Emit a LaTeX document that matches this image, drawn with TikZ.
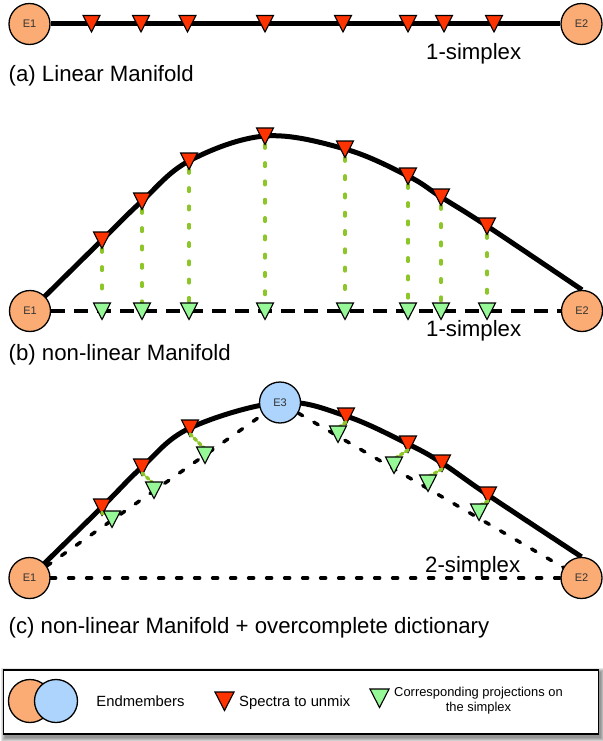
\documentclass[tikz,border=0pt]{standalone}
\usepackage{fontspec}
\setmainfont{Liberation Sans}
\usetikzlibrary{calc}
\pgfdeclarelayer{background}
\pgfsetlayers{background,main}
\definecolor{eorange}{RGB}{251,172,116}
\definecolor{eblue}{RGB}{172,212,253}
\definecolor{tred}{RGB}{255,51,0}
\definecolor{tgreen}{RGB}{150,248,150}
\definecolor{gline}{RGB}{141,198,40}
\tikzset{
  redtri/.pic={\filldraw[fill=tred, draw=black, line width=1.1pt, line join=miter] (-8.5,-8) -- (8.5,-8) -- (0,8.5) -- cycle;},
  greentri/.pic={\filldraw[fill=tgreen, draw=black, line width=1.1pt, line join=miter] (-8.5,-8) -- (8.5,-8) -- (0,8.5) -- cycle;},
  endm/.style={circle, draw=black, line width=1.3pt, minimum size=41pt, inner sep=0pt, font=\fontsize{11}{13}\selectfont, text=black!80},
  manifold/.style={line width=5pt, black},
  simplexdash/.style={line width=4pt, dash pattern=on 14pt off 9pt},
  simplexdot/.style={line width=3.5pt, line cap=round, dash pattern=on 5pt off 13pt},
  projline/.style={gline, line width=3.3pt, line cap=round, dash pattern=on 3.7pt off 14.6pt},
  title/.style={anchor=base west, inner sep=0pt, font=\fontsize{22.2}{26}\selectfont},
  legtext/.style={inner sep=0pt, font=\fontsize{14.8}{17}\selectfont},
}
\begin{document}
\begin{tikzpicture}[x=1pt,y=-1pt]
\useasboundingbox (0,0) rectangle (602,741);

% ---------------- (a) ----------------
\node[endm, fill=eorange] (a-E1) at (29.5,24) {E1};
\node[endm, fill=eorange] (a-E2) at (581.5,24) {E2};
\draw[manifold] (a-E1) -- (a-E2);
\foreach \x [count=\i] in {91.5,141,187.5,265,343,408,444,494} {
  \coordinate (a-r\i) at (\x,23.5);
  \pic at (a-r\i) {redtri};
}
\node[title] (a-simp) at (426,60) {1-simplex};
\node[title] (a-title) at (8.5,82) {(a) Linear Manifold};

% ---------------- (b) ----------------
\node[endm, fill=eorange] (b-E1) at (30,311) {E1};
\node[endm, fill=eorange] (b-E2) at (582,311) {E2};
\draw[simplexdash] (b-E1) -- (b-E2);
\foreach \x/\y [count=\i] in {102/240,142/201,189/161,265/136,345/149,408/176,441/197,487/226} {
  \coordinate (b-r\i) at (\x,\y);
  \coordinate (b-g\i) at (\x,311);
}
\begin{pgfonlayer}{background}
\draw[manifold] plot[smooth, tension=0.6] coordinates {(b-E1.center) (b-r1) (b-r2) (b-r3) (b-r4) (b-r5) (b-r6) (b-r7) (b-r8) (b-E2.north)};
\end{pgfonlayer}
\foreach \i in {1,...,8} {
  \draw[projline] ([yshift=-8.5pt]b-r\i) -- ([yshift=8pt]b-g\i);
  \pic at (b-r\i) {redtri};
  \pic at (b-g\i) {greentri};
}
\node[title] (b-simp) at (426,336) {1-simplex};
\node[title] (b-title) at (8.5,360) {(b) non-linear Manifold};

% ---------------- (c) ----------------
\node[endm, fill=eorange] (c-E1) at (29.5,578) {E1};
\node[endm, fill=eorange] (c-E2) at (581.5,578) {E2};
\node[endm, fill=eblue] (c-E3) at (280,402.5) {E3};
\begin{pgfonlayer}{background}
\draw[simplexdot] (c-E1) -- (c-E2);
\draw[simplexdot] (c-E1) -- (c-E3);
\draw[simplexdot] (c-E3) -- (c-E2);
\end{pgfonlayer}
\foreach \x/\y [count=\i] in {102/507,142/467,190/428,346/416,408/444,442/463,488/495} {
  \coordinate (c-r\i) at (\x,\y);
}
\foreach \x/\y [count=\i] in {112/519,154/490,205/455,338/434,394/465,428/483,479/512} {
  \coordinate (c-g\i) at (\x,\y);
}
\begin{pgfonlayer}{background}
\draw[manifold] plot[smooth, tension=0.6] coordinates {(c-E1.center) (c-r1) (c-r2) (c-r3) (c-E3.center) (c-r4) (c-r5) (c-r6) (c-r7) (c-E2.north)};
\end{pgfonlayer}
\foreach \i in {1,...,7} {
  \pic at (c-r\i) {redtri};
}
\foreach \i in {1,...,7} {
  \draw[projline, dash pattern=on 3pt off 3pt] ([yshift=-6pt]c-r\i) -- ([yshift=6pt]c-g\i);
}
\foreach \i in {1,...,7} {
  \pic at (c-g\i) {greentri};
}
\node[title] (c-simp) at (425,572) {2-simplex};
\node[title] (c-title) at (8.5,633) {(c) non-linear Manifold + overcomplete dictionary};

% ---------------- legend ----------------
\node[draw=black, fill=white, line width=1.3pt, minimum width=594.5pt, minimum height=64pt, inner sep=0pt] (legend) at (301,702) {};
\begin{pgfonlayer}{background}
\foreach \k in {0,1,2,3,4} {
  \fill[black, opacity=0.1] ($(legend.north west)+(2-\k,3-\k)$) rectangle ($(legend.south east)+(2+\k,3+\k)$);
}
\end{pgfonlayer}
\node[endm, fill=eorange, minimum size=43pt] (l-or) at (30,701) {};
\node[endm, fill=eblue, minimum size=43pt] (l-bl) at (56,701) {};
\node[legtext, anchor=base] (l-end) at (140.5,706.5) {Endmembers};
\coordinate (l-r) at (224.5,701);
\pic[scale=1.12] at (l-r) {redtri};
\node[legtext, anchor=base west] (l-spec) at (239,706.5) {Spectra to unmix};
\coordinate (l-g) at (379.5,698);
\pic[scale=1.12] at (l-g) {greentri};
\node[inner sep=0pt, align=center, font=\fontsize{12.9}{15}\selectfont] (l-proj) at (478.5,700.5) {Corresponding projections on\\the simplex};
\end{tikzpicture}
\end{document}
